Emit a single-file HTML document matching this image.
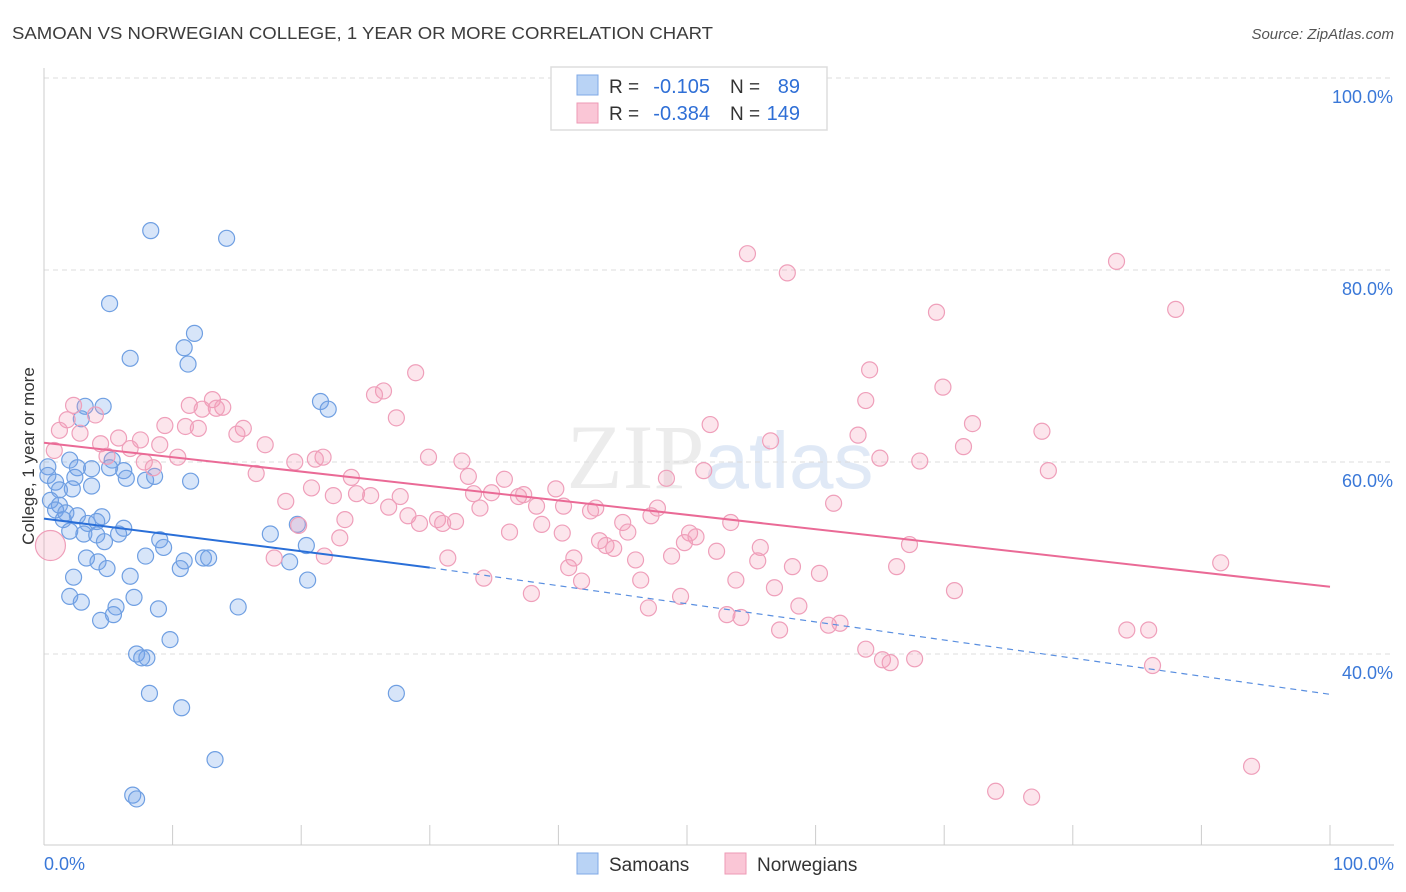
<!DOCTYPE html>
<html><head><meta charset="utf-8"><style>
body{margin:0;background:#fff;font-family:"Liberation Sans",sans-serif;}
svg{display:block}
</style></head><body>
<svg id="chart" width="1406" height="892">
<text x="12" y="39" font-size="17.5" fill="#3c3c3c" textLength="701" lengthAdjust="spacingAndGlyphs">SAMOAN VS NORWEGIAN COLLEGE, 1 YEAR OR MORE CORRELATION CHART</text>
<text x="1394" y="39" font-size="15" fill="#555" text-anchor="end" font-style="italic">Source: ZipAtlas.com</text>
<text x="720" y="488" font-size="92" fill="#ececec" text-anchor="middle" font-family="Liberation Serif,serif">ZIP<tspan fill="#e0e9f6" font-family="Liberation Sans,sans-serif" font-size="80">atlas</tspan></text>
<g id="grid"></g>
<g id="axes"></g>
<g id="pts"></g>
<g id="trends"></g>
<text transform="translate(34,456) rotate(-90)" font-size="17" fill="#333" text-anchor="middle">College, 1 year or more</text>
<g>
<rect x="551" y="67" width="276" height="63" fill="#fff" stroke="#ddd" stroke-width="1.5"/>
<rect x="577" y="75" width="21" height="20" fill="#b9d3f5" stroke="#7fa8e6"/>
<rect x="577" y="103" width="21" height="20" fill="#fac6d6" stroke="#ee9ab5"/>
<text x="609" y="93" font-size="19" fill="#333">R =</text>
<text x="710" y="93" font-size="20" fill="#2f6fd6" text-anchor="end">-0.105</text>
<text x="730" y="93" font-size="19" fill="#333">N =</text>
<text x="800" y="93" font-size="20" fill="#2f6fd6" text-anchor="end">89</text>
<text x="609" y="120" font-size="19" fill="#333">R =</text>
<text x="710" y="120" font-size="20" fill="#2f6fd6" text-anchor="end">-0.384</text>
<text x="730" y="120" font-size="19" fill="#333">N =</text>
<text x="800" y="120" font-size="20" fill="#2f6fd6" text-anchor="end">149</text>
</g>
<g>
<rect x="577" y="853" width="21" height="21" fill="#b9d3f5" stroke="#7fa8e6"/>
<text x="609" y="871" font-size="19" fill="#333">Samoans</text>
<rect x="725" y="853" width="21" height="21" fill="#fac6d6" stroke="#ee9ab5"/>
<text x="757" y="871" font-size="19" fill="#333">Norwegians</text>
</g>
</svg>
<script>
const yTicks=[40,60,80,100];
const xTickLabels=["0.0%","100.0%"];
const samoanX=[8.3,14.2,5.1,11.7,10.9,6.7,11.2,21.5,22.1,3.2,4.6,2.9,2.0,5.3,0.3,2.6,3.7,5.1,6.2,0.3,2.4,6.4,7.9,8.6,11.4,0.9,3.7,1.2,2.2,0.5,1.2,0.9,1.7,2.6,4.5,1.5,3.4,4.1,6.2,19.7,17.6,2.0,3.1,4.1,5.8,4.7,9.0,9.3,20.4,3.3,7.9,12.4,12.8,10.9,4.2,19.1,4.9,10.6,2.3,6.7,20.5,2.0,7.0,2.9,5.6,8.9,15.1,5.4,4.4,9.8,7.2,8.0,7.6,8.2,27.4,10.7,13.3,6.9,7.2];
const samoanY=[84.1,83.3,76.5,73.4,71.9,70.8,70.2,66.3,65.5,65.8,65.8,64.5,60.2,60.2,59.5,59.4,59.3,59.4,59.1,58.6,58.4,58.3,58.1,58.5,58.0,57.9,57.5,57.1,57.2,56.0,55.5,55.0,54.7,54.4,54.3,54.0,53.6,53.8,53.1,53.5,52.5,52.8,52.5,52.4,52.5,51.7,51.9,51.1,51.3,50.0,50.2,50.0,50.0,49.7,49.6,49.6,48.9,48.9,48.0,48.1,47.7,46.0,45.9,45.4,44.9,44.7,44.9,44.1,43.5,41.5,40.0,39.6,39.6,35.9,35.9,34.4,29.0,25.3,24.9];
const norwX=[54.7,57.8,83.4,88.0,69.4,64.2,69.9,28.9,26.4,25.7,63.9,13.1,11.3,13.9,2.3,13.4,12.3,4.0,1.8,27.4,9.4,12.0,11.0,1.2,15.5,51.8,72.2,77.6,2.8,15.0,63.3,5.8,7.5,4.4,56.5,17.2,71.5,9.0,6.7,0.8,4.9,21.7,65.0,19.5,29.9,10.4,7.8,32.5,21.1,68.1,8.5,78.1,51.3,16.5,33.0,23.9,48.4,35.8,20.8,33.4,39.8,24.3,25.4,27.7,36.9,37.3,18.8,22.5,34.8,38.3,26.8,33.9,40.4,42.9,47.7,61.4,42.5,28.3,23.4,30.6,32.0,29.2,31.0,38.7,45.0,47.2,53.4,19.8,36.2,40.3,45.4,50.2,50.7,23.0,43.2,43.7,44.3,49.8,67.3,55.7,52.3,21.8,41.2,48.8,31.4,17.9,46.0,55.5,58.2,66.3,91.5,40.8,60.3,34.2,53.8,46.4,41.8,56.8,70.8,37.9,49.5,58.7,47.0,53.1,54.2,57.2,61.0,61.9,84.2,85.9,63.9,65.2,65.8,67.7,86.2,93.9,74.0,76.8,0.5];
const norwY=[81.7,79.7,80.9,75.9,75.6,69.6,67.8,69.3,67.4,67.0,66.4,66.5,65.9,65.7,65.9,65.6,65.5,64.9,64.4,64.6,63.8,63.5,63.7,63.3,63.5,63.9,64.0,63.2,63.0,62.9,62.8,62.5,62.3,61.9,62.2,61.8,61.6,61.8,61.4,61.2,60.6,60.5,60.4,60.0,60.5,60.5,60.0,60.1,60.3,60.1,59.4,59.1,59.1,58.8,58.5,58.4,58.3,58.2,57.3,56.7,57.2,56.7,56.5,56.4,56.4,56.6,55.9,56.5,56.8,55.4,55.3,55.2,55.4,55.2,55.2,55.7,54.9,54.4,54.0,54.0,53.8,53.6,53.6,53.5,53.7,54.4,53.7,53.4,52.7,52.6,52.7,52.6,52.2,52.1,51.8,51.3,51.0,51.6,51.4,51.1,50.7,50.2,50.0,50.2,50.0,50.0,49.8,49.7,49.1,49.1,49.5,49.0,48.4,47.9,47.7,47.7,47.6,46.9,46.6,46.3,46.0,45.0,44.8,44.1,43.8,42.5,43.0,43.2,42.5,42.5,40.5,39.4,39.1,39.5,38.8,28.3,25.7,25.1,51.3];
const samoanTrend=[54.1,49.0,35.8];
const norwTrend=[62.0,47.0];

const NS="http://www.w3.org/2000/svg";
const X0=44,X1=1330,YTOP=78,PX=9.6;
function sx(v){return X0+(X1-X0)*v/100;}
function sy(v){return YTOP+(100-v)*PX;}
function mk(tag,attrs,parent){const e=document.createElementNS(NS,tag);for(const k in attrs)e.setAttribute(k,attrs[k]);parent.appendChild(e);return e;}
const grid=document.getElementById('grid'),axes=document.getElementById('axes'),pts=document.getElementById('pts'),tr=document.getElementById('trends');
yTicks.forEach(t=>{
 const l=mk('line',{x1:X0,x2:1394,y1:sy(t),y2:sy(t),stroke:'#dcdcdc','stroke-dasharray':'5,4'},grid);
 
 
 const tx=mk('text',{x:1393,y:sy(t)+25,'font-size':18,fill:'#3a78d8','text-anchor':'end'},grid);
 tx.textContent=t.toFixed(1)+'%';
 
 
});
const ax=mk('line',{x1:X0,x2:1394,y1:845,y2:845,stroke:'#ccc'},axes);


const ay=mk('line',{x1:X0,x2:X0,y1:68,y2:845,stroke:'#ccc'},axes);


for(let i=0;i<=10;i++){
 const t=mk('line',{x1:sx(i*10),x2:sx(i*10),y1:825,y2:845,stroke:'#ccc'},axes);
 
 
}
const xl0=mk('text',{x:44,y:870,'font-size':18,fill:'#3a78d8'},axes);xl0.textContent=xTickLabels[0];


const xl1=mk('text',{x:1394,y:870,'font-size':18,fill:'#3a78d8','text-anchor':'end'},axes);xl1.textContent=xTickLabels[1];


samoanX.forEach((x,i)=>{
 const c=mk('circle',{cx:sx(x),cy:sy(samoanY[i]),r:8,fill:'rgba(110,160,235,0.28)',stroke:'#6f9fe2','stroke-width':1.2},pts);
 
 
});
norwX.forEach((x,i)=>{
 const big=i===norwX.length-1;
 const c=mk('circle',{cx:sx(x),cy:sy(norwY[i]),r:big?15:8,fill:'rgba(243,150,180,0.25)',stroke:'#ef9fba','stroke-width':1.2},pts);
 
 
});
const b1=mk('line',{x1:sx(0),y1:sy(samoanTrend[0]),x2:sx(30),y2:sy(samoanTrend[1]),stroke:'#2a6fd8','stroke-width':2},tr);


const b2=mk('line',{x1:sx(30),y1:sy(samoanTrend[1]),x2:sx(100),y2:sy(samoanTrend[2]),stroke:'#5a8fe0','stroke-width':1.2,'stroke-dasharray':'6,5'},tr);


const p1=mk('line',{x1:sx(0),y1:sy(norwTrend[0]),x2:sx(100),y2:sy(norwTrend[1]),stroke:'#ea6a96','stroke-width':2},tr);


</script>
</body></html>
